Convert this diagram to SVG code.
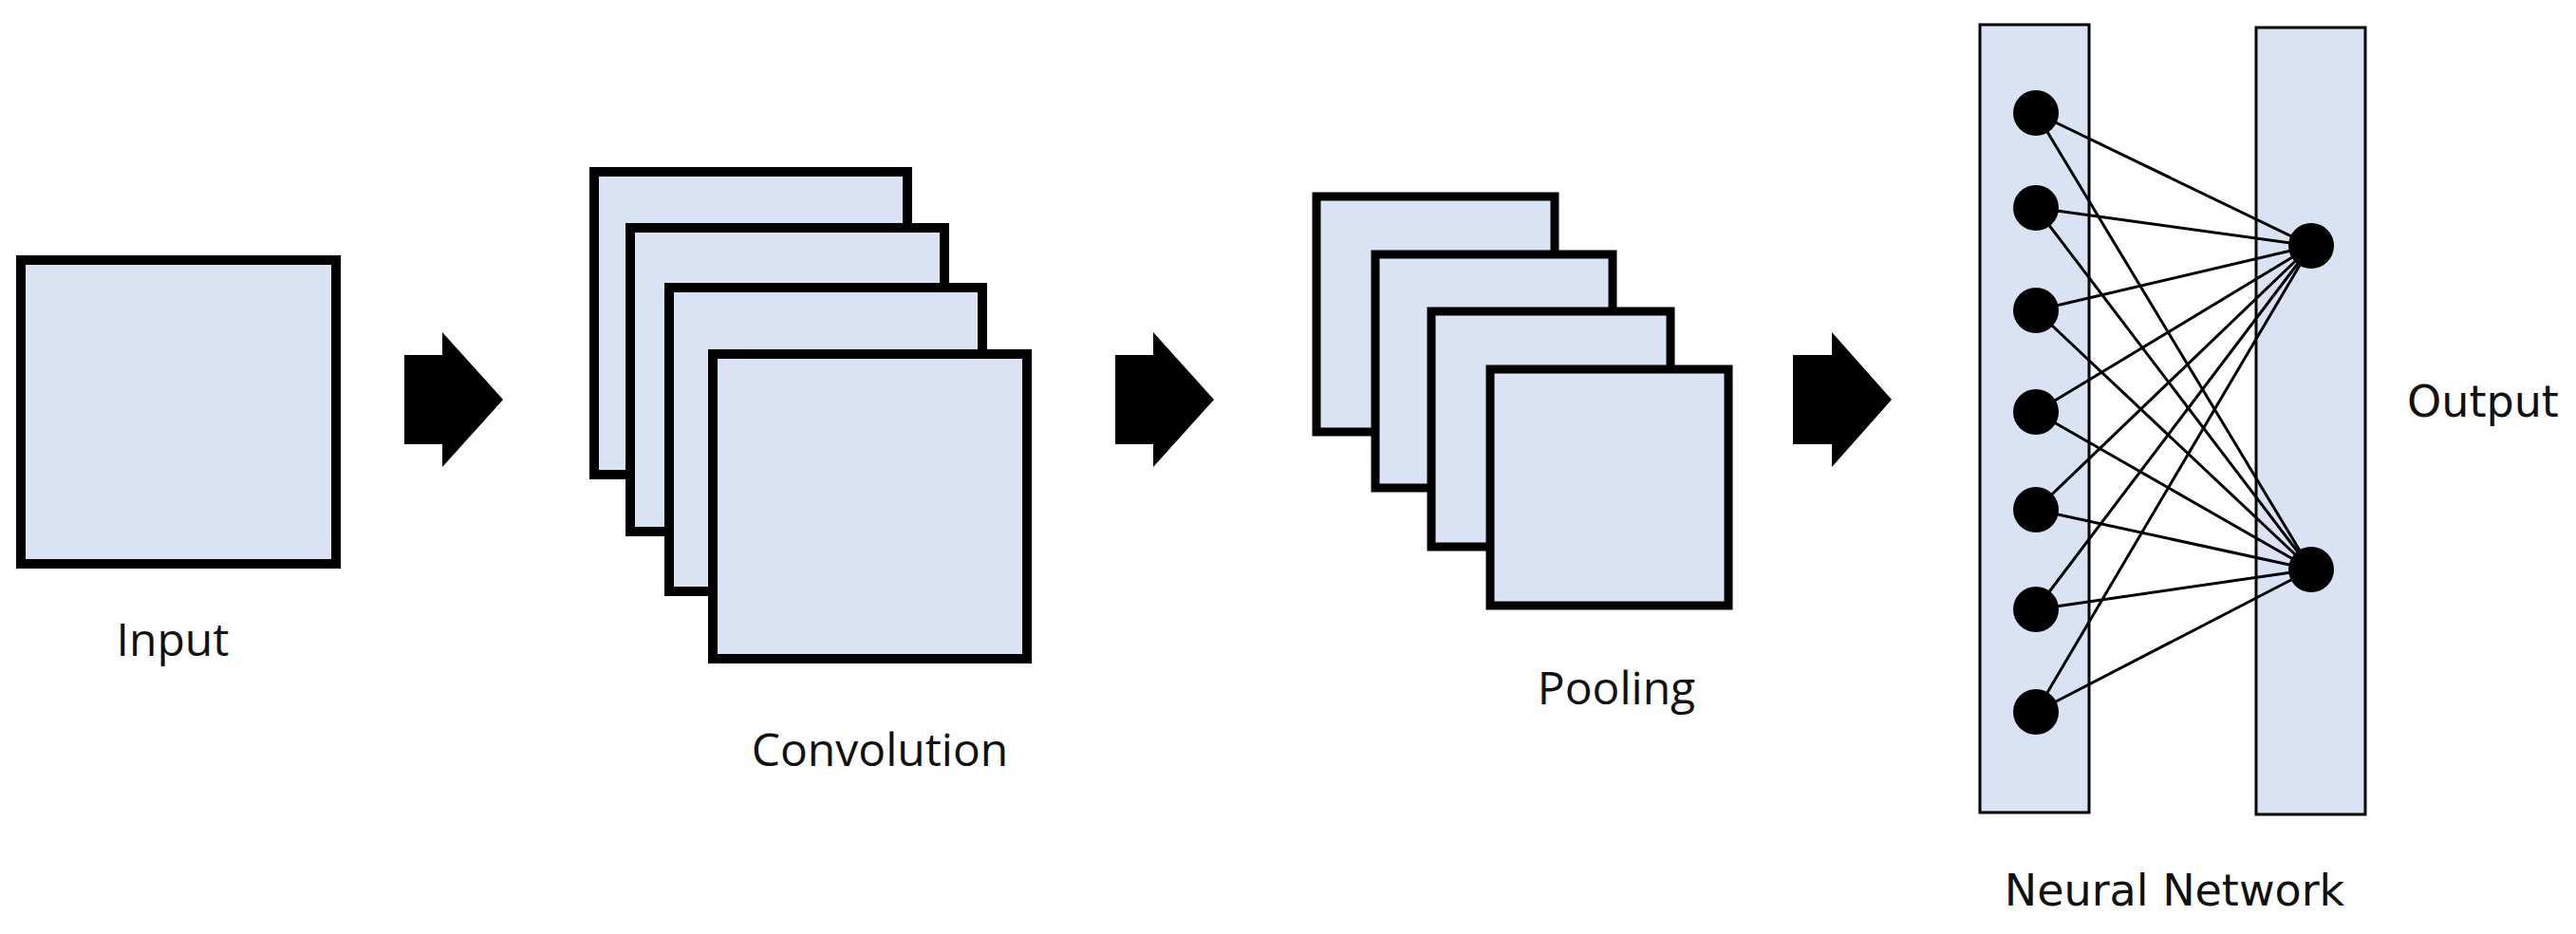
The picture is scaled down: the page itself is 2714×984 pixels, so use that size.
<svg xmlns="http://www.w3.org/2000/svg" width="2714" height="984" viewBox="0 0 2714 984">
<style>
.box{fill:#DAE3F3;stroke:#000;stroke-width:10}
.pbox{fill:#DAE3F3;stroke:#000;stroke-width:9}
.col{fill:#DAE3F3;stroke:#000;stroke-width:3}
.arr{fill:#000}
.lbl{font-family:"Open Sans",sans-serif;font-size:48px;fill:#111}
.lbl2{font-family:"DejaVu Sans",sans-serif;font-size:46px;fill:#111}
.node{fill:#000}
.edge{stroke:#000;stroke-width:3}
</style>
<rect width="2714" height="984" fill="#fff"/>
<g id="input">
<rect class="box" x="22" y="274" width="332" height="320"/>
<text class="lbl" x="182" y="691" text-anchor="middle">Input</text>
</g>
<g id="arrow1"><polygon class="arr" points="426,374 466,374 466,350 530,421 466,492 466,468 426,468"/></g>
<g id="convolution">
<rect class="box" x="626" y="181" width="330" height="319"/>
<rect class="box" x="664" y="240" width="331" height="320"/>
<rect class="box" x="705" y="303" width="330" height="320"/>
<rect class="box" x="751" y="373" width="331" height="321"/>
<text class="lbl" x="927" y="807" text-anchor="middle">Convolution</text>
</g>
<g id="arrow2"><polygon class="arr" points="1175,374 1215,374 1215,350 1279,421 1215,492 1215,468 1175,468"/></g>
<g id="pooling">
<rect class="pbox" x="1387" y="207" width="251" height="248"/>
<rect class="pbox" x="1449" y="268" width="250" height="246"/>
<rect class="pbox" x="1508" y="328" width="252" height="248"/>
<rect class="pbox" x="1570" y="389" width="251" height="249"/>
<text class="lbl" x="1703" y="742" text-anchor="middle">Pooling</text>
</g>
<g id="arrow3"><polygon class="arr" points="1889,374 1930,374 1930,350 1993,421 1930,492 1930,468 1889,468"/></g>
<g id="neural-network">
<rect class="col" x="2086" y="26" width="115" height="830"/>
<rect class="col" x="2377" y="29" width="115" height="829"/>
<text class="lbl2" x="2291" y="954" text-anchor="middle">Neural Network</text>
<text class="lbl2" x="2616" y="439" text-anchor="middle">Output</text>
</g>
<g id="connectors">
<line class="edge" x1="2145" y1="119" x2="2435" y2="259"/><line class="edge" x1="2145" y1="119" x2="2435" y2="600"/>
<line class="edge" x1="2145" y1="219" x2="2435" y2="259"/><line class="edge" x1="2145" y1="219" x2="2435" y2="600"/>
<line class="edge" x1="2145" y1="327" x2="2435" y2="259"/><line class="edge" x1="2145" y1="327" x2="2435" y2="600"/>
<line class="edge" x1="2145" y1="434" x2="2435" y2="259"/><line class="edge" x1="2145" y1="434" x2="2435" y2="600"/>
<line class="edge" x1="2145" y1="537" x2="2435" y2="259"/><line class="edge" x1="2145" y1="537" x2="2435" y2="600"/>
<line class="edge" x1="2145" y1="642" x2="2435" y2="259"/><line class="edge" x1="2145" y1="642" x2="2435" y2="600"/>
<line class="edge" x1="2145" y1="750" x2="2435" y2="259"/><line class="edge" x1="2145" y1="750" x2="2435" y2="600"/>
</g>
<g id="nodes">
<circle class="node" cx="2145" cy="119" r="24"/>
<circle class="node" cx="2145" cy="219" r="24"/>
<circle class="node" cx="2145" cy="327" r="24"/>
<circle class="node" cx="2145" cy="434" r="24"/>
<circle class="node" cx="2145" cy="537" r="24"/>
<circle class="node" cx="2145" cy="642" r="24"/>
<circle class="node" cx="2145" cy="750" r="24"/>
<circle class="node" cx="2435" cy="259" r="24"/>
<circle class="node" cx="2435" cy="600" r="24"/>
</g>
</svg>
